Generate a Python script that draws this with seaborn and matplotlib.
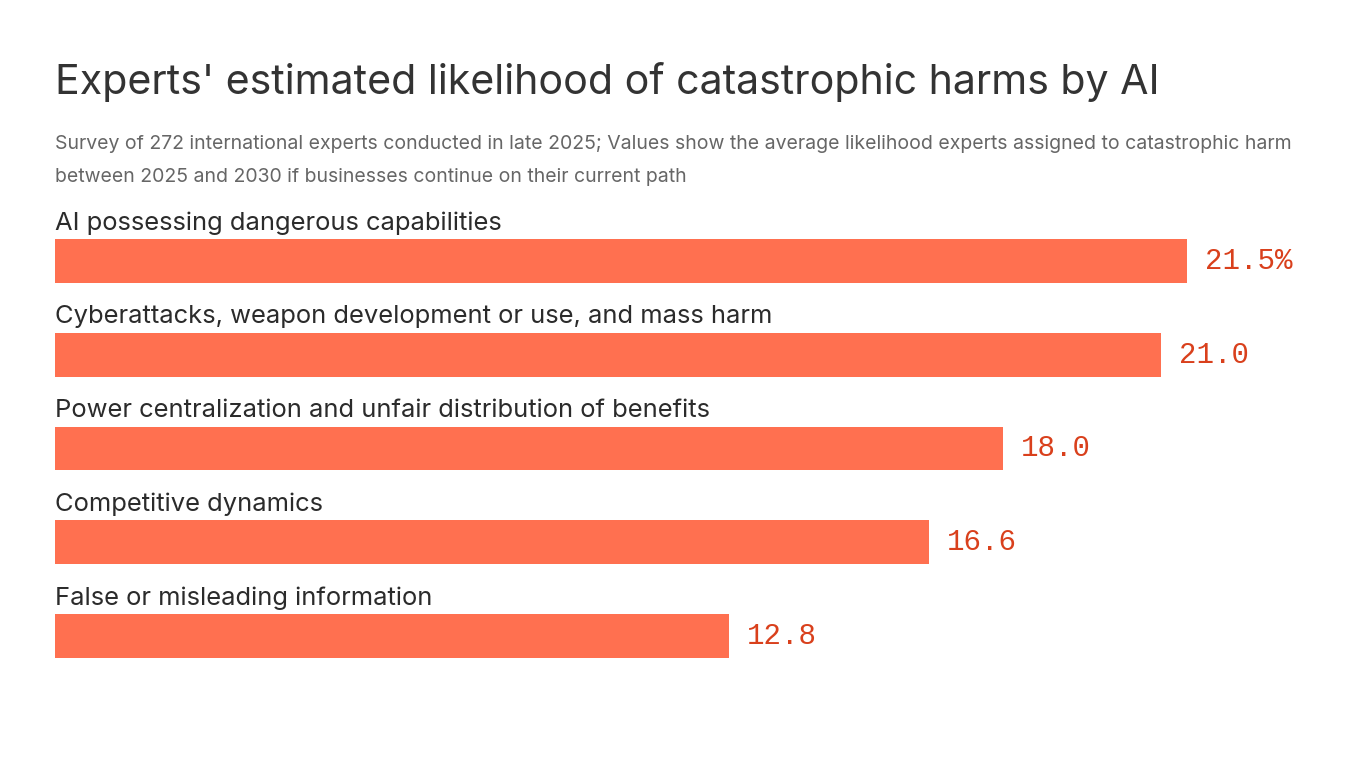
import pandas as pd
import seaborn as sns
import matplotlib.pyplot as plt

# данные
categories = [
    "AI possessing dangerous capabilities",
    "Cyberattacks, weapon development or use, and mass harm",
    "Power centralization and unfair distribution of benefits",
    "Competitive dynamics",
    "False or misleading information",
]
values = [21.5, 21.0, 18.0, 16.6, 12.8]
value_labels = ["21.5%", "21.0", "18.0", "16.6", "12.8"]

title = "Experts' estimated likelihood of catastrophic harms by AI"
subtitle = ("Survey of 272 international experts conducted in late 2025; Values show the average likelihood experts assigned to catastrophic harm\n"
            "between 2025 and 2030 if businesses continue on their current path")

df = pd.DataFrame({"category": categories, "value": values})

sns.set_theme(style="white")
plt.rcParams['font.family'] = ['Inter', 'DejaVu Sans']

W, H = 1366, 768
fig = plt.figure(figsize=(W / 100, H / 100), dpi=100)
fig.patch.set_facecolor("white")

# оси: бар 21.5 от x=55 до x=1187, центры баров 261..636
ax = fig.add_axes([55 / W, 1 - 683 / H, 1132 / W, 469 / H])
sns.barplot(data=df, y="category", x="value", orient="h", color="#FF7050",
            width=44 / 94, saturation=1, linewidth=0, ax=ax)
ax.set_xlim(0, 21.5)
ax.set_ylim(4.5, -0.5)
ax.axis("off")

for i, (cat, v, lab) in enumerate(zip(categories, values, value_labels)):
    ax.text(0, i - 0.405, cat, ha="left", va="center", fontsize=18.4,
            color="#2b2b2b", clip_on=False)
    ax.annotate(lab, xy=(v, i), xytext=(18, 0), textcoords="offset pixels",
                ha="left", va="center", fontsize=21, color="#D9401C",
                family=["Liberation Mono", "DejaVu Sans Mono"],
                annotation_clip=False)

fig.text(55 / W, 1 - 82 / H, title, ha="left", va="center", fontsize=29.6,
         color="#333333")
fig.text(55 / W, 1 - 160.5 / H, subtitle, ha="left", va="center", fontsize=14,
         color="#666666", linespacing=2.02)

fig.savefig("out.png", dpi=100, facecolor="white")
